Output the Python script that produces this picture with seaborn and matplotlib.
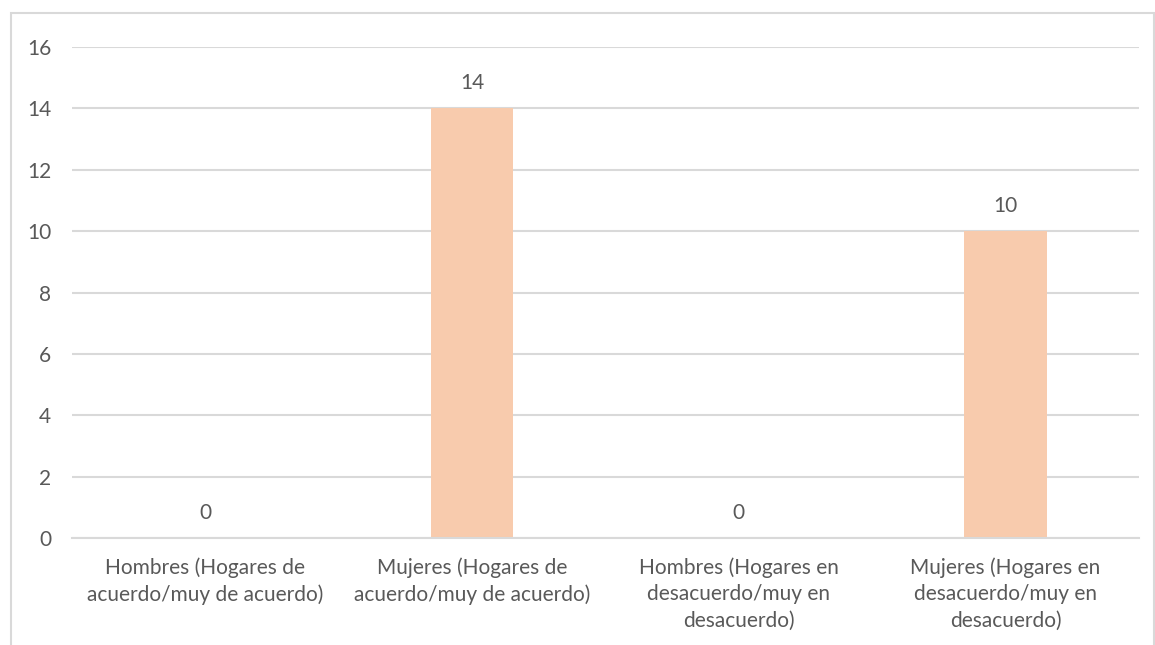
import matplotlib.pyplot as plt
import matplotlib.patches as patches
import pandas as pd
import seaborn as sns

# Chart data
categories = [
    'Hombres (Hogares de\nacuerdo/muy de acuerdo)',
    'Mujeres (Hogares de\nacuerdo/muy de acuerdo)',
    'Hombres (Hogares en\ndesacuerdo/muy en\ndesacuerdo)',
    'Mujeres (Hogares en\ndesacuerdo/muy en\ndesacuerdo)',
]
values = [0, 14, 0, 10]
y_ticks = [0, 2, 4, 6, 8, 10, 12, 14, 16]

df = pd.DataFrame({'cat': categories, 'val': values})

sns.set_style('white')
plt.rcParams['font.family'] = ['Lato', 'DejaVu Sans']
text_color = '#595959'
grid_color = '#D9D9D9'
fs = 15

#1. Set Figure
fig = plt.figure(figsize=(11.55, 6.45), dpi=100)
ax = fig.add_axes([0.0623, 0.166, 0.9237, 0.761])

#2. Bars
sns.barplot(data=df, x='cat', y='val', color='#F8CBAD', saturation=1,
            width=0.31, linewidth=0, ax=ax)
ax.bar_label(ax.containers[0], labels=[str(v) for v in values],
             padding=11, fontsize=fs, color=text_color)

#3. Format
ax.set_ylim(0, 16)
ax.set_xlim(-0.5, len(categories) - 0.5)
ax.set_yticks(y_ticks)
ax.set_yticklabels([str(t) for t in y_ticks], color=text_color, fontsize=fs)
ax.set_xticks(range(len(categories)))
ax.set_xticklabels(categories, color=text_color, fontsize=fs, linespacing=1.4)
ax.tick_params(axis='both', length=0)
ax.tick_params(axis='y', pad=15)
ax.tick_params(axis='x', pad=14)
ax.set_xlabel('')
ax.set_ylabel('')
ax.yaxis.grid(True, color=grid_color, linewidth=1.5)
ax.set_axisbelow(True)
for s in ['top', 'right', 'left']:
    ax.spines[s].set_visible(False)
ax.spines['bottom'].set_color(grid_color)
ax.spines['bottom'].set_linewidth(1.5)

#4. Outer chart frame
frame = patches.Rectangle((11 / 1155, -0.05), (1154 - 11) / 1155, 1 - 13 / 645 + 0.05,
                          transform=fig.transFigure, fill=False,
                          edgecolor=grid_color, linewidth=1.5)
fig.patches.append(frame)

fig.savefig('out.png', dpi=100)
